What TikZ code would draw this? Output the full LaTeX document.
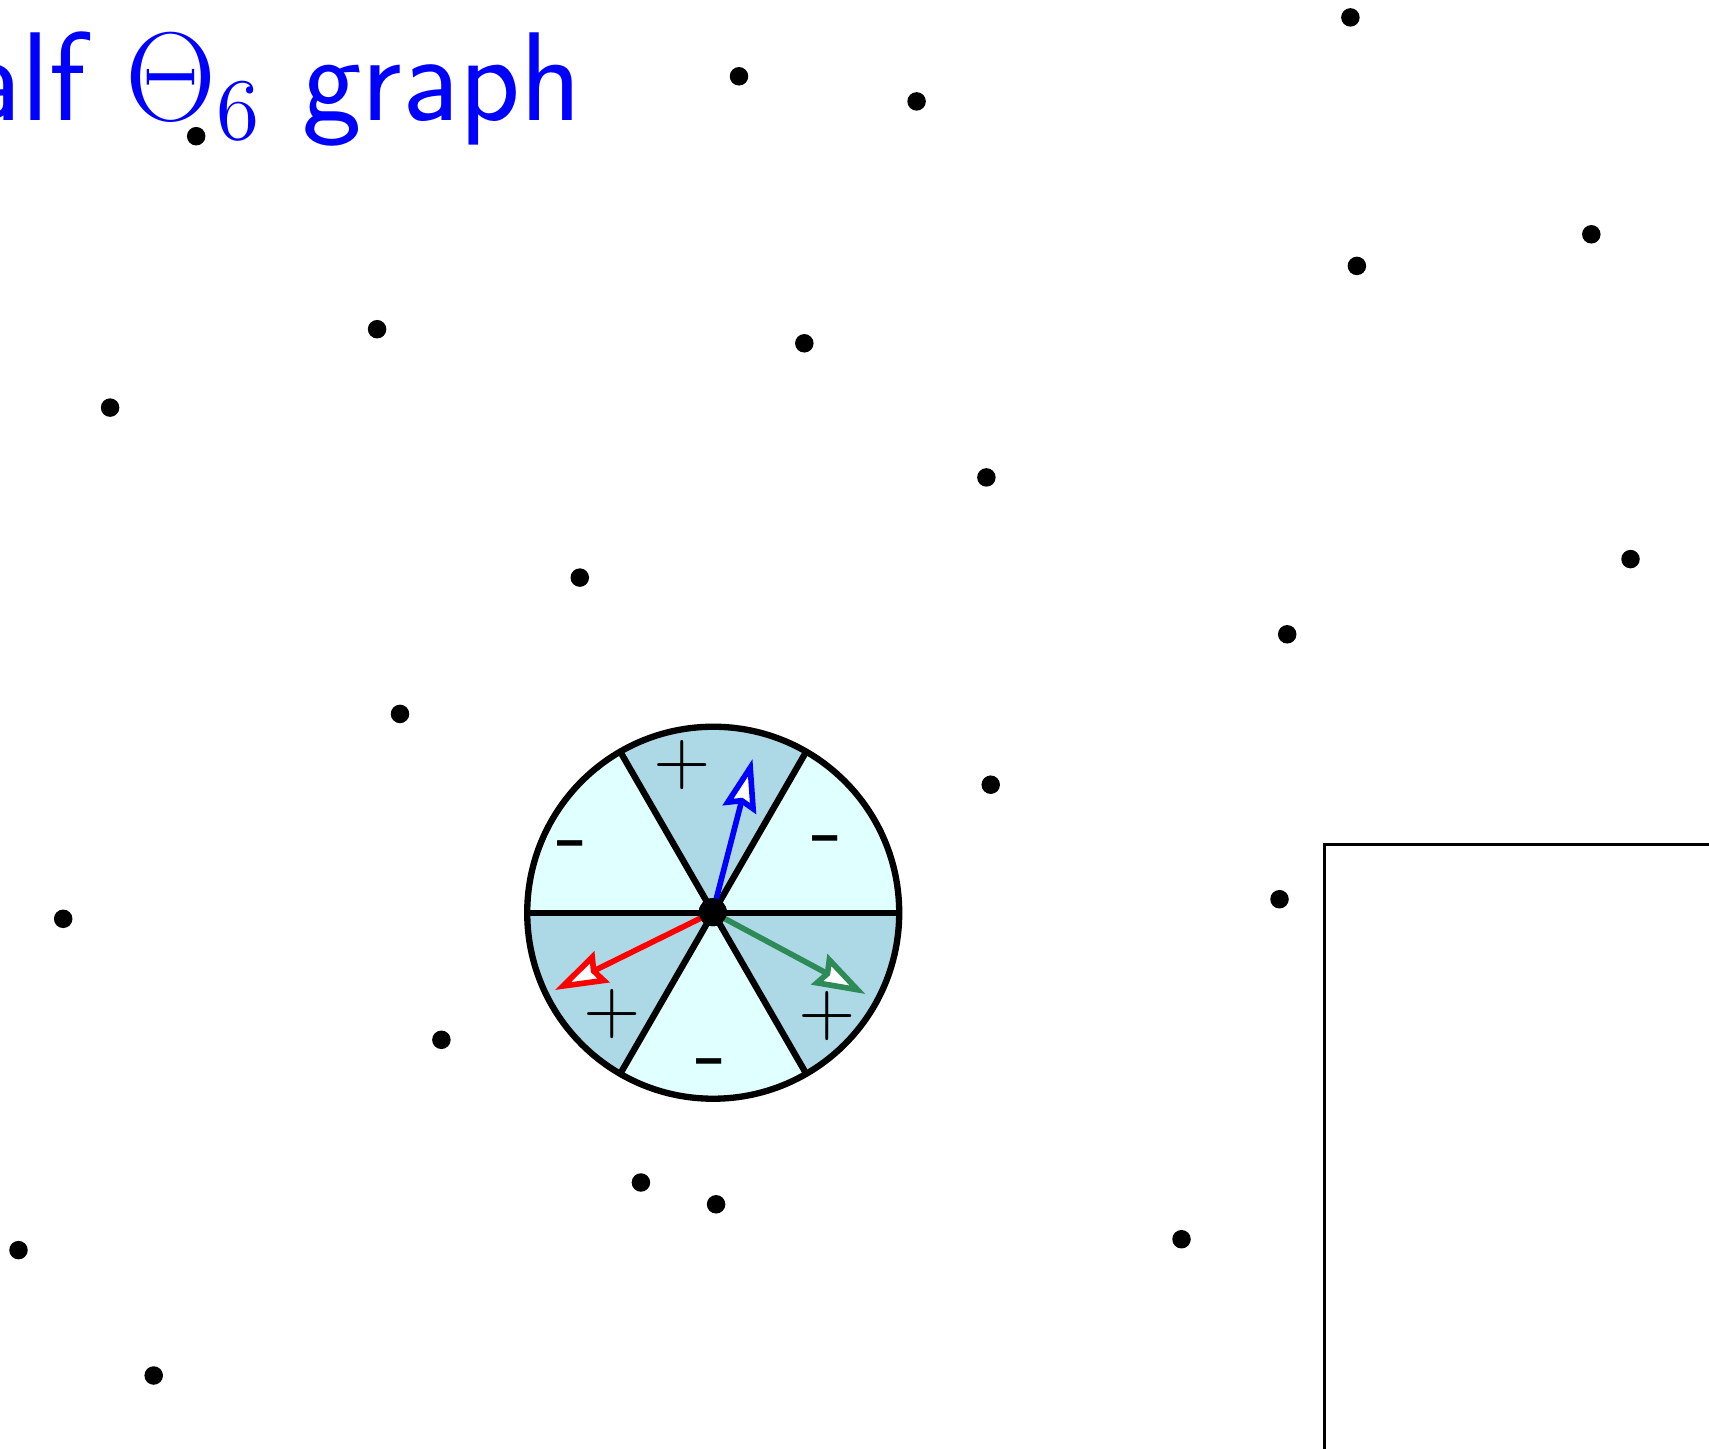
\documentclass[tikz,border=0pt]{standalone}
\usetikzlibrary{arrows.meta}
\definecolor{secA}{RGB}{224,255,255}
\definecolor{secB}{RGB}{173,216,230}
\definecolor{sgreen}{RGB}{46,139,87}
\begin{document}
\begin{tikzpicture}[x=0.01cm,y=-0.01cm,
  dot/.style={circle,fill=black,inner sep=0pt,minimum size=0.185cm},
  cdot/.style={circle,fill=black,inner sep=0pt,minimum size=0.28cm},
  wheelline/.style={line width=1.8pt},
  vec/.style={line width=1.6pt,-{Stealth[length=0.52cm,width=0.34cm,inset=0.06cm,fill=white,line join=miter]}},
  plus/.style={inner sep=0pt,scale=2.1,transform shape},
  minus/.style={inner sep=0pt,font=\sffamily,scale=2.7,transform shape}]
\useasboundingbox (0,0) rectangle (1709,1449);
\clip (0,0) rectangle (1709,1449);
% title
\node[anchor=base east,inner sep=0pt,text=blue,font=\sffamily\fontsize{17.28}{20}\selectfont,scale=2.08,transform shape] (title) at (583,121) {Half $\Theta_6$ graph};
% rectangle
\draw[line width=0.75pt] (1324.2,1460) -- (1324.2,844.7) -- (1720,844.7);
% wheel
\begin{scope}[shift={(7.128cm,-9.122cm)},x=0.01cm,y=0.01cm]
  \fill[secA] (0,0) -- (0:186) arc[start angle=0,end angle=60,radius=186] -- cycle;
  \fill[secB] (0,0) -- (60:186) arc[start angle=60,end angle=120,radius=186] -- cycle;
  \fill[secA] (0,0) -- (120:186) arc[start angle=120,end angle=180,radius=186] -- cycle;
  \fill[secB] (0,0) -- (180:186) arc[start angle=180,end angle=240,radius=186] -- cycle;
  \fill[secA] (0,0) -- (240:186) arc[start angle=240,end angle=300,radius=186] -- cycle;
  \fill[secB] (0,0) -- (300:186) arc[start angle=300,end angle=360,radius=186] -- cycle;
  \draw[wheelline] (0:186) -- (180:186);
  \draw[wheelline] (60:186) -- (240:186);
  \draw[wheelline] (120:186) -- (300:186);
  \draw[wheelline] (0,0) circle[radius=186];
\end{scope}
% labels
\node[plus] (pa) at (682.3,765.1) {$+$};
\node[plus] (pb) at (612.5,1013.6) {$+$};
\node[plus] (pc) at (827.2,1015.8) {$+$};
\node[minus] (ma) at (572,853) {-};
\node[minus] (mb) at (827,848) {-};
\node[minus] (mc) at (711,1071) {-};
% center and vectors
\node[cdot] (c) at (712.8,912.2) {};
\coordinate (tb) at (752.5,759);
\coordinate (tr) at (555,990);
\coordinate (tg) at (865.4,994);
\draw[vec,blue] (c.center) -- (tb);
\draw[vec,red] (c.center) -- (tr);
\draw[vec,sgreen] (c.center) -- (tg);
\node[cdot] at (c) {};
% points
\node[dot] (p1) at (1350.4,17.4) {};
\node[dot] (p2) at (739.0,76.3) {};
\node[dot] (p3) at (916.6,101.4) {};
\node[dot] (p4) at (196.2,136.2) {};
\node[dot] (p5) at (1591.3,234.3) {};
\node[dot] (p6) at (1356.9,265.9) {};
\node[dot] (p7) at (377.1,329.2) {};
\node[dot] (p8) at (804.3,343.3) {};
\node[dot] (p9) at (110.1,407.6) {};
\node[dot] (p10) at (986.4,477.4) {};
\node[dot] (p11) at (1630.5,559.1) {};
\node[dot] (p12) at (579.8,577.6) {};
\node[dot] (p13) at (1287.2,634.3) {};
\node[dot] (p14) at (400.0,713.9) {};
\node[dot] (p15) at (990.7,784.7) {};
\node[dot] (p16) at (1279.5,899.2) {};
\node[dot] (p17) at (63.2,918.8) {};
\node[dot] (p18) at (441.4,1039.8) {};
\node[dot] (p19) at (640.9,1182.5) {};
\node[dot] (p20) at (716.1,1204.3) {};
\node[dot] (p21) at (1181.5,1239.2) {};
\node[dot] (p22) at (18.5,1250.1) {};
\node[dot] (p23) at (153.7,1375.5) {};
\end{tikzpicture}
\end{document}
